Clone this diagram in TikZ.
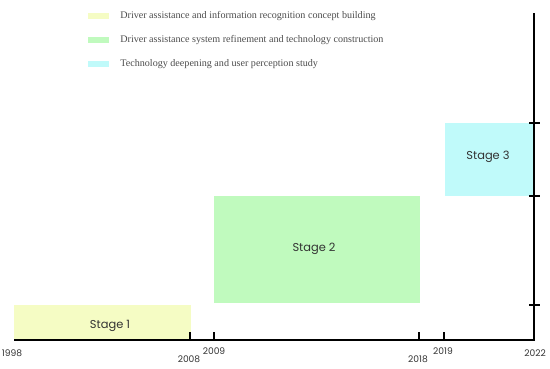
\documentclass[tikz,border=0pt]{standalone}
\usepackage{fontspec}
\setmainfont{Liberation Serif}
\newfontfamily\gothic{Poppins}
\definecolor{stageone}{RGB}{245,252,196}
\definecolor{stagetwo}{RGB}{192,250,190}
\definecolor{stagethree}{RGB}{192,250,250}
\tikzset{
  axis/.style={line width=0.7pt, black},
  legtext/.style={anchor=west, inner sep=0pt, text=black!70, font=\fontsize{5.75}{6}\selectfont},
  stagelbl/.style={inner sep=0pt, text=black!80, font=\gothic\fontsize{6.5}{8}\selectfont},
  yearlbl/.style={inner sep=0pt, text=black!80, font=\gothic\fontsize{5.2}{7}\selectfont}
}
\begin{document}
\begin{tikzpicture}[x=0.02cm, y=-0.02cm]
    \useasboundingbox (0,0) rectangle (550,368);
    % legend
    \foreach \c/\y/\t in {stageone/16/{Driver assistance and information recognition concept building},
                          stagetwo/40/{Driver assistance system refinement and technology construction},
                          stagethree/64/{Technology deepening and user perception study}}{
      \fill[\c] (88,\y-3) rectangle (109,\y+3);
      \node[legtext] (leg\y) at (120,\y) {\t};
    }
    % stages
    \fill[stageone] (14,305) rectangle (191,340);
    \fill[stagetwo] (214,196) rectangle (420,303);
    \fill[stagethree] (445,123) rectangle (534,196);
    \node[stagelbl] (stage1) at (110,326) {Stage 1};
    \node[stagelbl] (stage2) at (314,249) {Stage 2};
    \node[stagelbl] (stage3) at (488,157) {Stage 3};
    % axes
    \draw[axis] (14,340) -- (534,340) -- (534,13);
    \foreach \x in {190,214,419,444}
      \draw[axis] (\x,340) -- (\x,332);
    \foreach \y in {123,196,305}
      \draw[axis] (529,\y) -- (540,\y);
    % years
    \node[yearlbl] (y1998) at (12,353) {1998};
    \node[yearlbl] (y2008) at (189,359) {2008};
    \node[yearlbl] (y2009) at (214,351) {2009};
    \node[yearlbl] (y2018) at (418,359) {2018};
    \node[yearlbl] (y2019) at (443,351) {2019};
    \node[yearlbl] (y2022) at (535,353) {2022};
\end{tikzpicture}
\end{document}
